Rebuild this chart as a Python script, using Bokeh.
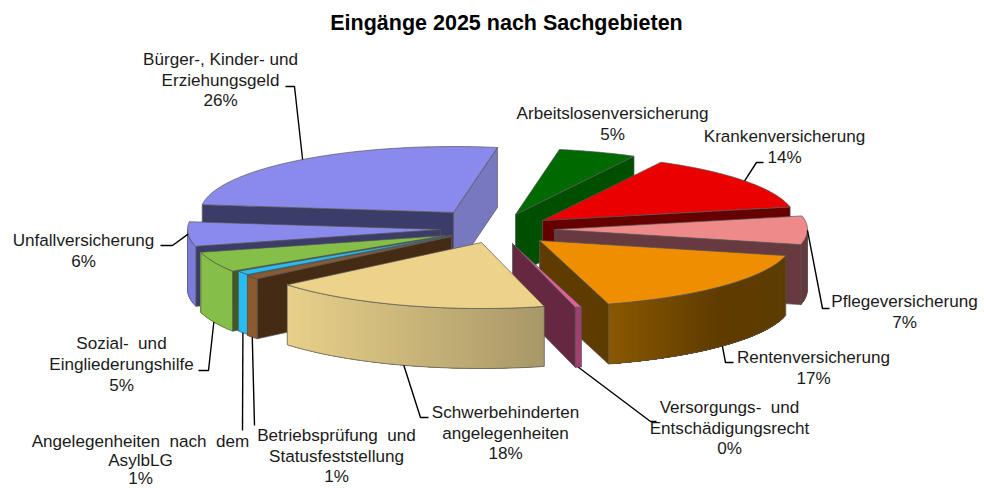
import math
from bokeh.plotting import figure
from bokeh.models import Range1d
from bokeh.core.properties import value
from bokeh.embed import file_html
from bokeh.resources import INLINE

# ---- data (clockwise from the first slice)
categories = ["Arbeitslosenversicherung", "Krankenversicherung", "Pflegeversicherung",
              "Rentenversicherung", "Versorgungs- und Entschädigungsrecht",
              "Schwerbehinderten angelegenheiten", "Betriebsprüfung und Statusfeststellung",
              "Angelegenheiten nach dem AsylbLG", "Sozial- und Eingliederungshilfe",
              "Unfallversicherung", "Bürger-, Kinder- und Erziehungsgeld"]
shares = [5, 14, 7, 17, 0.4, 18, 1, 1, 5, 6, 26]
title = "Eingänge 2025 nach Sachgebieten"

# ---- label lines, without the percentage
label_lines = [["Arbeitslosenversicherung"], ["Krankenversicherung"], ["Pflegeversicherung"],
               ["Rentenversicherung"], ["Versorgungs-\u00a0 und", "Entschädigungsrecht"],
               ["Schwerbehinderten", "angelegenheiten"], ["Betriebsprüfung\u00a0 und", "Statusfeststellung"],
               ["Angelegenheiten\u00a0 nach\u00a0 dem", "AsylbLG"], ["Sozial-\u00a0 und", "Eingliederungshilfe"],
               ["Unfallversicherung"], ["Bürger-, Kinder- und", "Erziehungsgeld"]]

# ---- layout
CX, CY, RX, RY, DEPTH = 491, 227, 253, 66, 60
START_ANGLE = 10
explode_dx = [24, 51, 63, 48, 21, -10, -40, -40, -46, -51, -38]
explode_dy = [-13, -7, 2, 13, 16, 15, 9, 8, 8, 2, -15]
label_x = [612, 784, 904, 813, 729, 505, 336, 140, 121, 83, 220]
label_y = [113, 136, 301, 357, 407, 412, 435, 441, 343, 240, 59]
line_gap = [20.5, 20.5, 20.5, 20.5, 20.5, 20.5, 20.5, 18.5, 21, 20.5, 20.5]
draw_order = [10, 0, 1, 2, 9, 8, 7, 6, 3, 4, 5]

# ---- styles
top_col = ["#006a00", "#ea0000", "#ee8a8a", "#ee8e00", "#e0609a", "#edd28a",
           "#8c5a2e", "#28bcf0", "#86bf48", "#8a8aec", "#8a8aec"]
face_col = ["#004f00", "#660000", "#663a3e", "#5e3c00", "#662840", "#a89868",
            "#452a14", "#1b7fa6", "#3f5a22", "#3c3c68", "#3c3c68"]
end_col = {10: "#7878c0"}
wall_left = ["#004f00", "#660000", "#663a3e", "#8a5800", "#a04070", "#e8d08a",
             "#8c5a2e", "#28bcf0", "#86bf48", "#7c7cdc", "#7c7cdc"]
wall_right = ["#004f00", "#660000", "#663a3e", "#5e3c00", "#a04070", "#a89868",
              "#8c5a2e", "#28bcf0", "#86bf48", "#7c7cdc", "#7c7cdc"]
EDGE = "#555555"

# leader lines: label elbow points; index -> (elbow points, on lower rim?)
leaders = {
    1: ([(756, 162), (763, 162)], False),
    2: ([(822, 308), (829, 308)], False),
    3: ([(725, 362), (733, 362)], True),
    4: ([(650, 421), (656, 421)], True),
    5: ([(420, 417), (428, 417)], True),
    6: ([(254, 425)], True),
    7: ([(242, 430)], True),
    8: ([(208, 370), (198, 370)], True),
    9: ([(172, 245), (160, 245)], False),
    10: ([(294, 86), (285, 86)], False),
}

p = figure(width=984, height=488, x_range=Range1d(0, 984), y_range=Range1d(488, 0),
           toolbar_location=None, output_backend="svg", min_border=0, outline_line_color=None)
p.axis.visible = False
p.grid.visible = False
p.background_fill_color = "white"


def mix(c1, c2, t):
    a = [int(c1[i:i + 2], 16) for i in (1, 3, 5)]
    b = [int(c2[i:i + 2], 16) for i in (1, 3, 5)]
    return "#%02x%02x%02x" % tuple(round(a[k] + (b[k] - a[k]) * t) for k in range(3))


total = sum(shares)
starts, ends = [], []
a = START_ANGLE
for s in shares:
    starts.append(a)
    a += 360 * s / total
    ends.append(a)


def rim(i, th):
    r = math.radians(th)
    return (CX + explode_dx[i] + RX * math.sin(r), CY + explode_dy[i] - RY * math.cos(r))


def apex(i):
    return (CX + explode_dx[i], CY + explode_dy[i])


def poly(pts, fill, line=EDGE, width=0.7):
    p.patch([q[0] for q in pts], [q[1] for q in pts], fill_color=fill, line_color=line, line_width=width)


def radial_face(i, th, col):
    ax, ay = apex(i)
    ox, oy = rim(i, th)
    poly([(ax, ay), (ox, oy), (ox, oy + DEPTH), (ax, ay + DEPTH)], col)


for i in draw_order:
    s, e = starts[i], ends[i]
    if math.sin(math.radians(s % 360)) < 0:
        radial_face(i, s, face_col[i])
    if math.sin(math.radians(e % 360)) > 0:
        radial_face(i, e, end_col.get(i, face_col[i]))
    # outer wall: only the part turned to the viewer
    w0, w1 = max(s, 90), min(e, 270)
    if w1 > w0:
        n = max(2, int(w1 - w0))
        xs0 = rim(i, w1)[0]
        xs1 = rim(i, w0)[0]
        # each band reaches the far end of the wall and the next one covers it,
        # so no seams show between the bands
        for k in range(n):
            t0 = w0 + (w1 - w0) * k / n
            band = [rim(i, t0 + (w1 - t0) * j / 24) for j in range(25)]
            tt = (rim(i, t0 + (w1 - w0) / (2 * n))[0] - xs0) / max(xs1 - xs0, 1)
            c = mix(wall_left[i], wall_right[i], min(1, tt * (1.6 if i == 3 else 1)))
            outline = band + [(x, y + DEPTH) for x, y in reversed(band)]
            p.patch([q[0] for q in outline], [q[1] for q in outline], fill_color=c, line_color=None)
        arc = [rim(i, w0 + (w1 - w0) * k / 60) for k in range(61)]
        outline = arc + [(x, y + DEPTH) for x, y in reversed(arc)]
        p.patch([q[0] for q in outline], [q[1] for q in outline], fill_color=None, line_color=EDGE, line_width=0.7)
    # top
    m = max(3, int(e - s) * 2)
    pts = [apex(i)] + [rim(i, s + (e - s) * k / m) for k in range(m + 1)]
    poly(pts, top_col[i])

# leaders
for i, (elbows, on_wall) in leaders.items():
    x0, y0 = rim(i, (starts[i] + ends[i]) / 2)
    if on_wall:
        y0 += DEPTH
    xs = [x0] + [q[0] for q in elbows]
    ys = [y0] + [q[1] for q in elbows]
    p.line(xs, ys, line_color="black", line_width=1.4)

# labels
FONT = value("Liberation Sans")
for i, lines in enumerate(label_lines):
    rows = lines + ["%d%%" % round(shares[i])]
    for k, row in enumerate(rows):
        p.text([label_x[i]], [label_y[i] + k * line_gap[i]], text=[row], text_font=FONT,
               text_font_size="17.1px", text_color="#1a1a1a", text_align="center", text_baseline="middle")

p.text([506], [22], text=[title], text_font=FONT, text_font_size="21.5px", text_font_style="bold",
       text_color="black", text_align="center", text_baseline="middle")

open("out.html", "w").write(file_html(p, INLINE))
